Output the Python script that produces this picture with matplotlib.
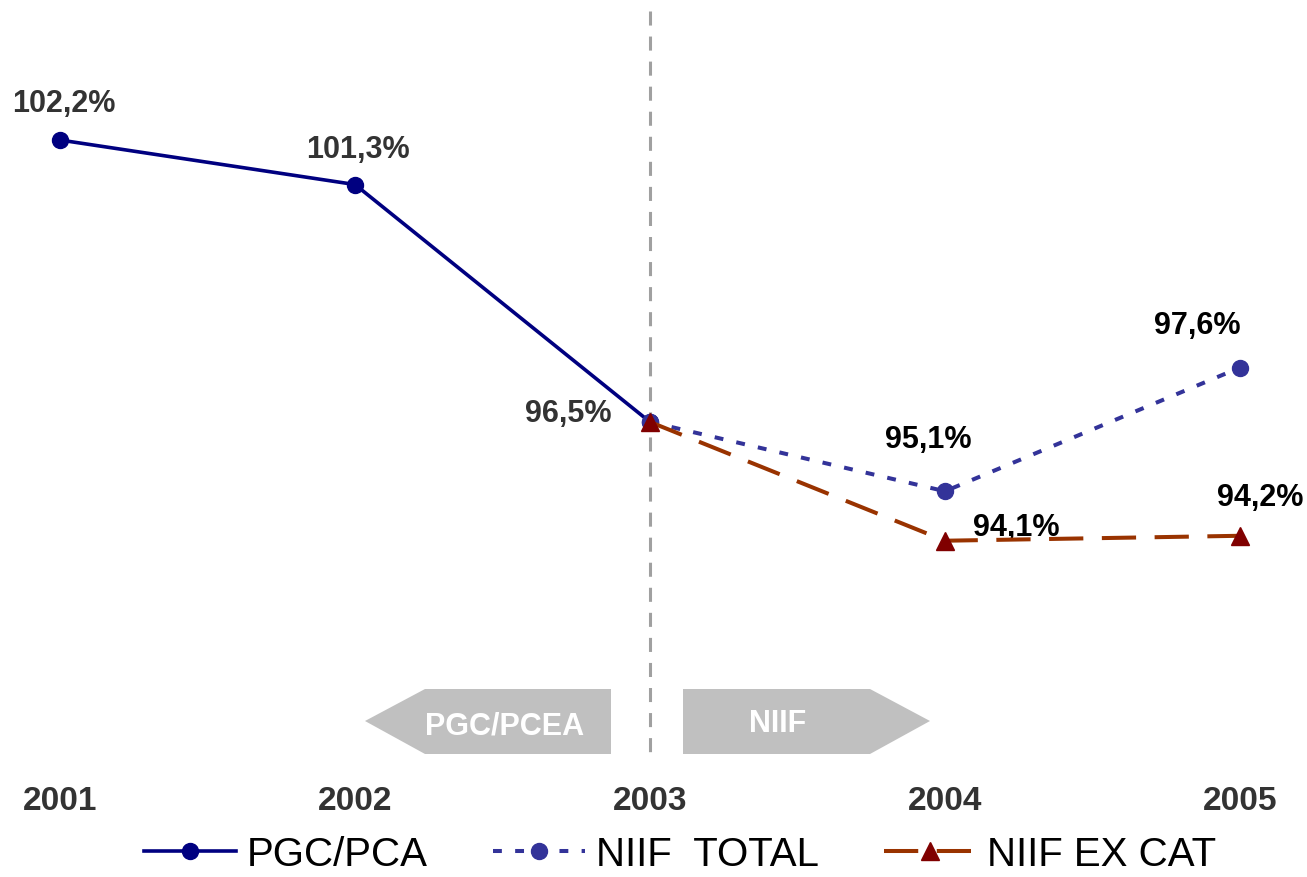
import matplotlib
matplotlib.use("Agg")
import matplotlib.pyplot as plt
from matplotlib.patches import Polygon

plt.rcParams['font.family'] = ['Liberation Sans', 'DejaVu Sans']

years = [2001, 2002, 2003, 2004, 2005]
year_labels = ["2001", "2002", "2003", "2004", "2005"]
pgc_years = [2001, 2002, 2003]
pgc_vals = [102.2, 101.3, 96.5]
niif_years = [2003, 2004, 2005]
niif_total = [96.5, 95.1, 97.6]
niif_excat = [96.5, 94.1, 94.2]
series_names = ["PGC/PCA", "NIIF  TOTAL", "NIIF EX CAT"]
label_pgc = ["102,2%", "101,3%", "96,5%"]
label_total = ["95,1%", "97,6%"]
label_excat = ["94,1%", "94,2%"]

W, H = 1307, 878
fig = plt.figure(figsize=(W / 100, H / 100), dpi=100)
ax = fig.add_axes([0, 0, 1, 1])
ax.axis('off')

# pixel mapping
px_per_year = 295.0
px_per_pct = 49.47
ax.set_xlim(2001 - 60 / px_per_year, 2001 + (W - 60) / px_per_year)
ax.set_ylim(96.5 - (H - 423) / px_per_pct, 96.5 + 423 / px_per_pct)

def X(p):
    return 2001 + (p - 60) / px_per_year

def Y(p):
    return 96.5 - (p - 423) / px_per_pct

# vertical dashed divider
ax.plot([2003, 2003], [Y(12), Y(757)], color='#A0A0A0', lw=2.2,
        dashes=(4.6, 3.6), zorder=1)

# arrows
grey = '#C0C0C0'
left = Polygon([(X(365), Y(722)), (X(425), Y(690)), (X(611), Y(690)),
                (X(611), Y(755)), (X(425), Y(755))], closed=True,
               facecolor=grey, edgecolor='none', zorder=0)
right = Polygon([(X(683), Y(690)), (X(870), Y(690)), (X(930), Y(722)),
                 (X(870), Y(755)), (X(683), Y(755))], closed=True,
                facecolor=grey, edgecolor='none', zorder=0)
ax.add_patch(left)
ax.add_patch(right)
ax.text(X(505), Y(726), "PGC/PCEA", color='white', fontsize=22,
        fontweight='bold', ha='center', va='center')
ax.text(X(778), Y(724), "NIIF", color='white', fontsize=22,
        fontweight='bold', ha='center', va='center')

# lines
l1, = ax.plot(pgc_years, pgc_vals, color='#000080', lw=2.6, marker='o',
              markersize=11.5, zorder=3, label=series_names[0])
l2, = ax.plot(niif_years, niif_total, color='#333399', lw=2.9, marker='o',
              markersize=11.5, dashes=(2.2, 3.3), zorder=3, label=series_names[1])
l3, = ax.plot(niif_years, niif_excat, color='#993300', lw=2.9, marker='^',
              markersize=12.5, markerfacecolor='#800000', markeredgecolor='#800000',
              dashes=(8.5, 4.6), zorder=4, label=series_names[2])

# data labels (offsets in pixels)
def lab(x, y, s, dx, dy, color, ha='center'):
    ax.annotate(s, (x, y), xytext=(dx, dy), textcoords='offset pixels',
                ha=ha, va='center', fontsize=22, fontweight='bold', color=color)

lab(pgc_years[0], pgc_vals[0], label_pgc[0], 4, 37, '#333333')
lab(pgc_years[1], pgc_vals[1], label_pgc[1], 3, 36, '#333333')
lab(pgc_years[2], pgc_vals[2], label_pgc[2], -38, 9, '#333333', ha='right')
lab(niif_years[1], niif_total[1], label_total[0], -17, 52, '#000000')
lab(niif_years[2], niif_total[2], label_total[1], -43, 43, '#000000')
lab(niif_years[1], niif_excat[1], label_excat[0], 71, 14, '#000000')
lab(niif_years[2], niif_excat[2], label_excat[1], 20, 39, '#000000')

# year labels
for yr, s in zip(years, year_labels):
    ax.text(yr, Y(802), s, ha='center', va='center', fontsize=24,
            fontweight='bold', color='#333333')

fig.legend(handles=[l1, l2, l3], loc='center',
           bbox_to_anchor=(680 / W, 1 - 855 / H), ncol=3, frameon=False,
           fontsize=29, handlelength=2.3, handletextpad=0.27, columnspacing=1.6,
           borderaxespad=0)

fig.savefig("out.png", dpi=100)
